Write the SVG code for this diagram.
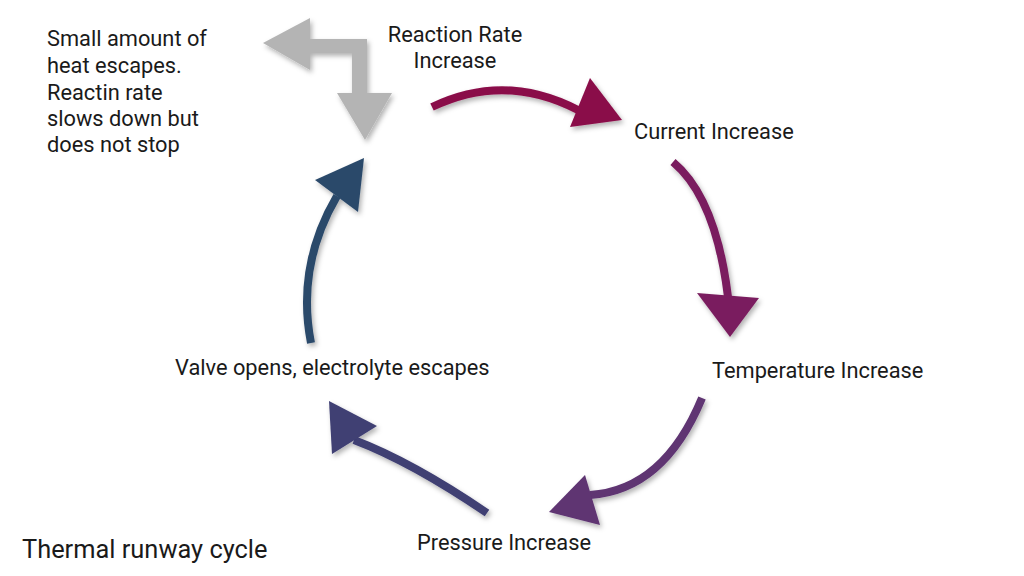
<svg xmlns="http://www.w3.org/2000/svg" width="1024" height="576" viewBox="0 0 1024 576">
<defs>
<filter id="sh" x="-20%" y="-20%" width="140%" height="140%">
<feDropShadow dx="2" dy="3" stdDeviation="2.5" flood-color="#000" flood-opacity="0.3"/>
</filter>
</defs>
<style>
text{font-family:Roboto,"Liberation Sans",sans-serif;font-size:21.8px;fill:#1a1a1a}
.shaft{fill:none;stroke-width:8}
</style>
<rect width="1024" height="576" fill="#fff"/>
<g id="connectors" filter="url(#sh)">
<g id="arrow-rate-current">
<path class="shaft" d="M432 107 Q505 72 578 110" stroke="#8A0B48"/>
<polygon points="570,127 590,78 622,120" fill="#8A0B48"/>
</g>
<g id="arrow-current-temp">
<path class="shaft" d="M673 162 Q716 198 728 297" stroke="#7A1E5E"/>
<polygon points="697,293 759,298 730,337" fill="#7A1E5E"/>
</g>
<g id="arrow-temp-pressure">
<path class="shaft" d="M702 398 Q664 490 590 495" stroke="#5E3472"/>
<polygon points="585,475 549,512 600,525" fill="#5E3472"/>
</g>
<g id="arrow-pressure-valve">
<path class="shaft" d="M487 513 Q412 462 354 440" stroke="#3F3F73"/>
<polygon points="329,401 377,426 332,454" fill="#3F3F73"/>
</g>
<g id="arrow-valve-rate">
<path class="shaft" d="M311 343 Q296 266 337 196" stroke="#2C4A6B"/>
<polygon points="315,180 364,158 358,212" fill="#2C4A6B"/>
</g>
<g id="arrow-heat">
<path d="M310 39 H367 V93 H352 V53 H310 Z" fill="#B4B4B4"/>
<polygon points="263,43 310,18 310,70" fill="#B4B4B4"/>
<polygon points="337,93 392,93 365,140" fill="#B4B4B4"/>
</g>
</g>
<g id="node-rate"><text x="455" y="42" text-anchor="middle">Reaction Rate</text><text x="455" y="68" text-anchor="middle">Increase</text></g>
<g id="node-current"><text x="634" y="139">Current Increase</text></g>
<g id="node-temp"><text x="712" y="378">Temperature Increase</text></g>
<g id="node-pressure"><text x="417" y="550">Pressure Increase</text></g>
<g id="node-valve"><text x="175" y="375">Valve opens, electrolyte escapes</text></g>
<g id="node-heat">
<text x="47" y="46">Small amount of</text>
<text x="47" y="73">heat escapes.</text>
<text x="47" y="100">Reactin rate</text>
<text x="47" y="126">slows down but</text>
<text x="47" y="152">does not stop</text>
</g>
<g id="title"><text x="22" y="558" style="font-size:25.4px">Thermal runway cycle</text></g>
</svg>
